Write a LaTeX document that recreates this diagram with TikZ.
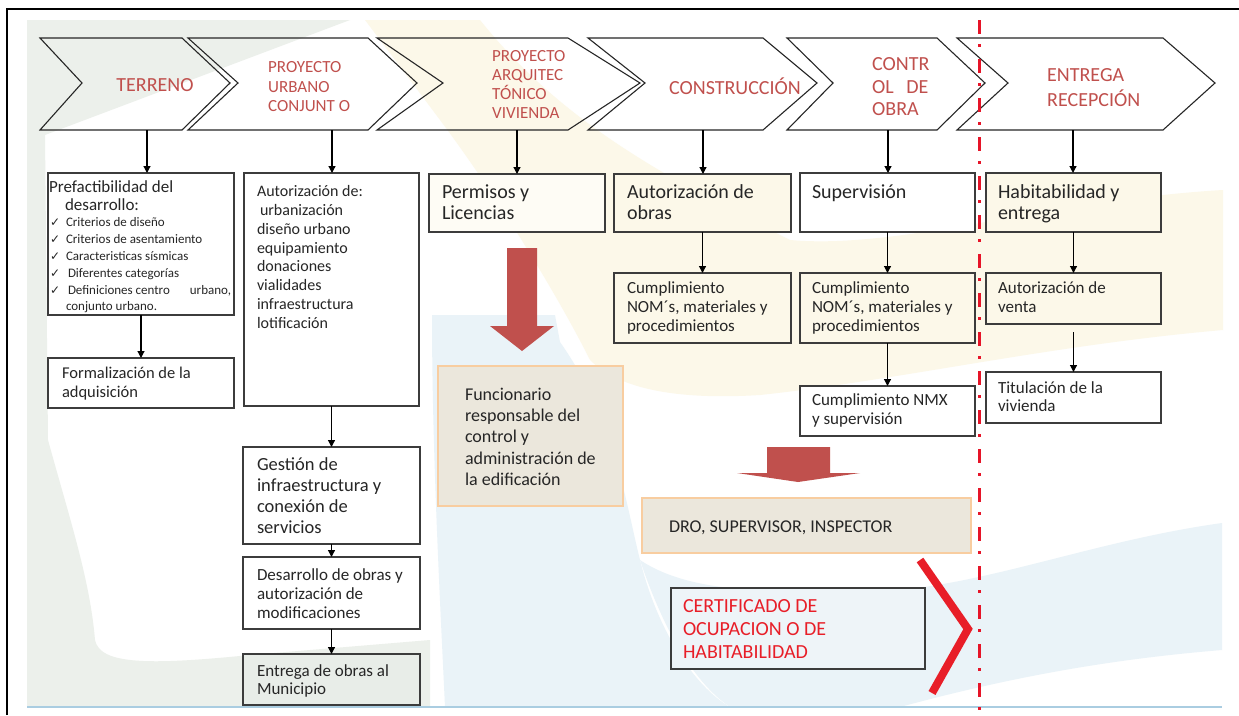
\documentclass[tikz,border=0pt]{standalone}
\usepackage{fontspec}
\setmainfont{Carlito}
\newfontfamily\symf{DejaVu Sans}
\usetikzlibrary{arrows.meta,calc}
\definecolor{chevred}{RGB}{192,80,77}
\definecolor{blockred}{RGB}{192,80,77}
\definecolor{certred}{RGB}{232,30,40}
\definecolor{dashred}{RGB}{230,20,40}
\definecolor{wgreen}{RGB}{236,240,235}
\definecolor{wcream}{RGB}{252,248,233}
\definecolor{wblue}{RGB}{234,243,248}
\definecolor{beige}{RGB}{235,231,220}
\definecolor{beigeline}{RGB}{248,205,160}
\definecolor{boxline}{RGB}{60,60,60}
\definecolor{txt}{RGB}{38,38,38}
\definecolor{bottomblue}{RGB}{170,205,225}
\newcommand\fs[2]{\fontsize{#1}{#2}\selectfont}
\newcommand\ck{\makebox[16pt][l]{\symf\fontsize{12}{12}\selectfont ✓}}
\begin{document}
\begin{tikzpicture}[x=1pt,y=-1pt,
  box/.style={draw=boxline, line width=1.3pt, anchor=north west, inner sep=0pt, outer sep=0pt, fill=white},
  lbl/.style={anchor=north west, inner sep=0pt, outer sep=0pt, align=left, text=txt},
  chevtxt/.style={text=chevred, inner sep=0pt, align=left},
  chev/.style={draw=black!85, line width=1.1pt, line join=miter},
  arr/.style={-{Triangle[width=7pt,length=7pt]}, line width=1.2pt, black}]
\useasboundingbox (0,0) rectangle (1239,715);
\fill[white] (0,0) rectangle (1239,715);
% watermark
\fill[wgreen] (27,20) -- (350,20) -- (45,135) -- (48,440) .. controls (70,520) and (90,580) .. (95,640) .. controls (100,665) and (150,665) .. (250,655) -- (430,640) -- (430,707) -- (27,707) -- cycle;
\fill[wcream] (365,20) -- (480,20) .. controls (560,120) and (660,175) .. (790,240) .. controls (900,250) and (1050,200) .. (1223,190) -- (1223,330) .. controls (1050,345) and (900,380) .. (760,395) .. controls (680,400) and (620,390) .. (590,360) .. controls (560,300) and (500,200) .. (440,120) -- cycle;
\fill[wblue] (432,315) -- (555,315) -- (560,342) .. controls (615,420) and (625,500) .. (640,560) .. controls (660,640) and (700,690) .. (730,707) -- (445,707) .. controls (440,600) and (432,450) .. (432,315) -- cycle;
\fill[wblue] (640,560) .. controls (700,600) and (800,590) .. (900,590) .. controls (1000,580) and (1100,540) .. (1222,523) -- (1222,650) .. controls (1100,660) and (1000,680) .. (900,707) -- (730,707) .. controls (690,680) and (660,620) .. (640,560) -- cycle;
\draw[bottomblue, line width=1.5pt] (27,707) -- (1222,707);
% frame
\draw[black, line width=2pt] (7,715) -- (7,9) -- (1239,9);
% chevrons
\draw[chev] (40,38) -- (182,38) -- (230,83) -- (182,130) -- (40,130) -- (82,83) -- cycle;
\draw[chev] (188,38) -- (368,38) -- (417,83) -- (368,130) -- (188,130) -- (238,83) -- cycle;
\draw[chev] (377,38) -- (568,38) -- (640,83) -- (568,130) -- (377,130) -- (443,83) -- cycle;
\draw[chev] (588,38) -- (763,38) -- (817,83) -- (763,130) -- (588,130) -- (645,83) -- cycle;
\draw[chev] (787,38) -- (937,38) -- (985,83) -- (937,130) -- (787,130) -- (833,83) -- cycle;
\draw[chev] (957,38) -- (1163,38) -- (1215,83) -- (1163,130) -- (957,130) -- (1008,83) -- cycle;
\coordinate (a1) at (147,130);
\coordinate (a2) at (332,130);
\coordinate (a3) at (517,130);
\coordinate (a4) at (703,130);
\coordinate (a5) at (888,130);
\coordinate (a6) at (1073,130);
\node[chevtxt, font=\fs{20}{24}] (t1) at (155,85) {TERRENO};
\node[chevtxt, anchor=north west, font=\fs{17}{19.5}] (t2) at (268,58.8) {\strut PROYECTO\\URBANO\\CONJUNT O};
\node[chevtxt, anchor=north west, font=\fs{17}{19}] (t3) at (492,48.1) {\strut PROYECTO\\ARQUITEC\\TÓNICO\\VIVIENDA};
\node[chevtxt, font=\fs{20}{24}] (t4) at (735,86) {CONSTRUCCIÓN};
\node[chevtxt, anchor=north west, font=\fs{20}{22.5}] (t5) at (872,54.6) {\strut CONTR\\OL\hspace{8pt} DE\\OBRA};
\node[chevtxt, anchor=north west, font=\fs{20}{22.5}] (t6) at (1047,65.6) {\strut ENTREGA\\RECEPCIÓN};
% boxes
\node[box, minimum width=186pt, minimum height=142pt] (prefact) at (48,173) {};
\node[box, minimum width=186pt, minimum height=50pt] (formal) at (48,358) {};
\node[box, minimum width=175pt, minimum height=233pt] (autor) at (244,173) {};
\node[box, minimum width=177pt, minimum height=97pt] (gestion) at (243,447) {};
\node[box, minimum width=177pt, minimum height=72pt] (desarr) at (243,557) {};
\node[box, minimum width=177pt, minimum height=51pt, fill={rgb,255:red,232;green,237;blue,232}] (entrega) at (243,654) {};
\node[box, minimum width=176pt, minimum height=58pt, fill={rgb,255:red,254;green,252;blue,245}] (permisos) at (429,174) {};
\node[box, minimum width=177pt, minimum height=58pt, fill=wcream] (autobras) at (614,174) {};
\node[box, minimum width=177pt, minimum height=70pt, fill=wcream] (cumpl1) at (614,273) {};
\node[box, minimum width=175pt, minimum height=59pt] (superv) at (800,173) {};
\node[box, minimum width=175pt, minimum height=70pt, fill=wcream] (cumpl2) at (800,273) {};
\node[box, minimum width=175pt, minimum height=50pt] (nmx) at (800,386) {};
\node[box, minimum width=175pt, minimum height=59pt, fill=wcream] (habit) at (986,173) {};
\node[box, minimum width=175pt, minimum height=51pt, fill=wcream] (venta) at (986,273) {};
\node[box, minimum width=175pt, minimum height=51pt] (titul) at (986,372) {};
\node[box, draw=beigeline, line width=1.8pt, fill=beige, minimum width=185pt, minimum height=140pt] (func) at (438,366) {};
\node[box, draw=beigeline, line width=1.8pt, fill=beige, minimum width=329pt, minimum height=55pt] (dro) at (642,498) {};
\node[box, minimum width=254pt, minimum height=81pt, fill={rgb,255:red,238;green,244;blue,248}] (cert) at (671,588) {};
% texts
\node[lbl, font=\fs{17}{18}] (prefactT) at (49,179.4) {\strut Prefactibilidad del\\\hspace{16pt}desarrollo:};
\node[lbl, font=\fs{13}{16.8}] (prefactL) at (50,215.1) {\strut\ck Criterios de diseño\\\ck Criterios de asentamiento\\\ck Caracteristicas sísmicas\\\ck\hspace{2pt}Diferentes categorías\\\ck\hspace{2pt}Definiciones centro\hspace{20pt}urbano,\\\hspace{16pt}conjunto urbano.};
\node[lbl, font=\fs{16.5}{19}] (formalT) at (62,364.7) {\strut Formalización de la\\adquisición};
\node[lbl, font=\fs{16}{18.8}] (autorT) at (257,183.6) {\strut Autorización de:\\\hspace{3pt}urbanización\\diseño urbano\\equipamiento\\donaciones\\vialidades\\infraestructura\\lotificación};
\node[lbl, font=\fs{18.5}{21}] (gestionT) at (257,455.8) {\strut Gestión de\\infraestructura y\\conexión de\\servicios};
\node[lbl, font=\fs{17}{19}] (desarrT) at (257,566.8) {\strut Desarrollo de obras y\\autorización de\\modificaciones};
\node[lbl, font=\fs{17}{18.7}] (entregaT) at (257,663) {\strut Entrega de obras al\\Municipio};
\node[lbl, font=\fs{20}{21.6}] (permisosT) at (442,182.9) {\strut Permisos y\\Licencias};
\node[lbl, font=\fs{20}{21.6}] (autobrasT) at (627,182.9) {\strut Autorización de\\obras};
\node[lbl, font=\fs{20}{21.6}] (supervT) at (812,182.9) {\strut Supervisión};
\node[lbl, font=\fs{20}{21.6}] (habitT) at (998,182.9) {\strut Habitabilidad y\\entrega};
\node[lbl, font=\fs{17}{19.2}] (cumpl1T) at (627,280) {\strut Cumplimiento\\NOM´s, materiales y\\procedimientos};
\node[lbl, font=\fs{17}{19.2}] (cumpl2T) at (812,280) {\strut Cumplimiento\\NOM´s, materiales y\\procedimientos};
\node[lbl, font=\fs{17}{19.3}] (nmxT) at (812,391.6) {\strut Cumplimiento NMX\\y supervisión};
\node[lbl, font=\fs{17}{19}] (ventaT) at (998,280) {\strut Autorización de\\venta};
\node[lbl, font=\fs{17}{18.5}] (titulT) at (998,380.4) {\strut Titulación de la\\vivienda};
\node[lbl, font=\fs{18}{21.2}] (funcT) at (465,385.6) {\strut Funcionario\\responsable del\\control y\\administración de\\la edificación};
\node[lbl, anchor=base west, font=\fs{18}{21}] (droT) at (669,532) {DRO, SUPERVISOR, INSPECTOR};
\node[lbl, text=certred, font=\fs{20}{23}] (certT) at (683,596.3) {\strut CERTIFICADO DE\\OCUPACION O DE\\HABITABILIDAD};
% arrows
\draw[arr] (a1) -- (a1 |- prefact.north);
\draw[arr] (prefact.south) -- (formal.north);
\draw[arr] (a2) -- (a2 |- autor.north);
\draw[arr] (autor.south) -- (gestion.north);
\draw[arr] (gestion.south) -- (desarr.north);
\draw[arr] (desarr.south) -- (entrega.north);
\draw[arr] (a3) -- (a3 |- permisos.north);
\draw[arr] (a4) -- (a4 |- autobras.north);
\draw[arr] (autobras.south) -- (cumpl1.north);
\draw[arr] (a5) -- (a5 |- superv.north);
\draw[arr] (superv.south) -- (cumpl2.north);
\draw[arr] (cumpl2.south) -- (nmx.north);
\draw[arr] (a6) -- (a6 |- habit.north);
\draw[arr] (habit.south) -- (venta.north);
\draw[arr, shorten <=8pt] (venta.south) -- (titul.north);
% red block arrows
\fill[blockred] (507,248) -- (537,248) -- (537,326) -- (554,326) -- (522,351) -- (490,326) -- (507,326) -- cycle;
\fill[blockred] (767,447) -- (830,447) -- (830,473) -- (860,473) -- (798,482) -- (737,473) -- (767,473) -- cycle;
% red bracket and dash-dot line
\draw[certred, line width=8pt, line join=miter] (920,560) -- (968,629) -- (932,693);
\draw[dashred, line width=3pt, dash pattern=on 14pt off 10pt on 3pt off 12pt] (979,20) -- (979,715);
\end{tikzpicture}
\end{document}
